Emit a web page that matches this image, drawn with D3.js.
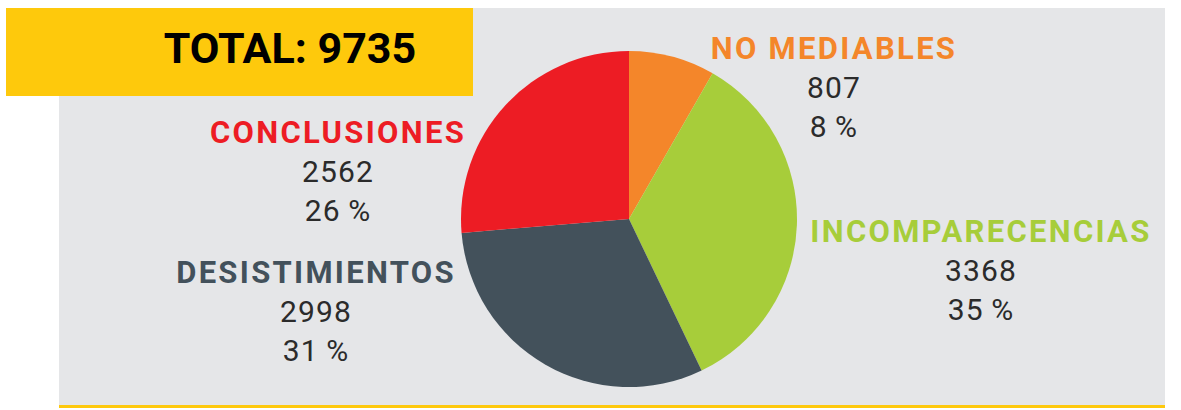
<!DOCTYPE html>
<meta charset="utf-8">
<style>
body { margin: 0; background: #fff; }
svg text { font-family: Roboto, "Liberation Sans", sans-serif; }
.name { font-weight: 700; font-size: 31px; letter-spacing: 2.3px; }
.num { font-weight: 400; font-size: 30px; fill: #2b2b2b; letter-spacing: 1.2px; }
</style>
<body>
<script src="https://d3js.org/d3.v7.min.js"></script>
<script>

// data
var categories = ["NO MEDIABLES", "INCOMPARECENCIAS", "DESISTIMIENTOS", "CONCLUSIONES"];
var values = [807, 3368, 2998, 2562];
var colors = ["#f4862a", "#a7cd3a", "#43515b", "#ed1c24"];

var width = 1181, height = 410;
var total = d3.sum(values);

var svg = d3.select("body").append("svg")
    .attr("width", width)
    .attr("height", height);

// grey panel + yellow bottom rule
svg.append("rect")
    .attr("x", 59).attr("y", 8)
    .attr("width", 1106).attr("height", 398)
    .attr("fill", "#e5e6e8");
svg.append("rect")
    .attr("x", 59).attr("y", 405)
    .attr("width", 1106).attr("height", 3)
    .attr("fill", "#fec90c");

// total box
svg.append("rect")
    .attr("x", 6).attr("y", 8)
    .attr("width", 467).attr("height", 88)
    .attr("fill", "#fec90c");
svg.append("text")
    .attr("x", 290).attr("y", 63)
    .attr("text-anchor", "middle")
    .style("font-weight", 700)
    .style("font-size", "43px")
    .attr("fill", "#000")
    .text("TOTAL: " + total);

// pie
var cx = 629, cy = 219, r = 168;
var pie = d3.pie().sort(null).value(function(d) { return d; });
var arc = d3.arc().innerRadius(0).outerRadius(r);

var g = svg.append("g").attr("transform", "translate(" + cx + "," + cy + ")");
g.selectAll("path")
    .data(pie(values))
  .enter().append("path")
    .attr("d", arc)
    .attr("fill", function(d, i) { return colors[i]; });

// label anchors (centre x, baseline of name)
var labelPos = [
  {x: 834, y: 59},
  {x: 981, y: 242},
  {x: 316, y: 283},
  {x: 338, y: 143}
];

var labels = svg.selectAll("g.label")
    .data(categories)
  .enter().append("g")
    .attr("class", "label")
    .attr("transform", function(d, i) { return "translate(" + labelPos[i].x + "," + labelPos[i].y + ")"; });

labels.append("text")
    .attr("class", "name")
    .attr("text-anchor", "middle")
    .attr("fill", function(d, i) { return colors[i]; })
    .text(function(d) { return d; });

labels.append("text")
    .attr("class", "num")
    .attr("text-anchor", "middle")
    .attr("y", 39)
    .text(function(d, i) { return values[i]; });

labels.append("text")
    .attr("class", "num")
    .attr("text-anchor", "middle")
    .attr("y", 78)
    .text(function(d, i) { return Math.round(values[i] / total * 100) + "\u2009%"; });

</script>
</body>
